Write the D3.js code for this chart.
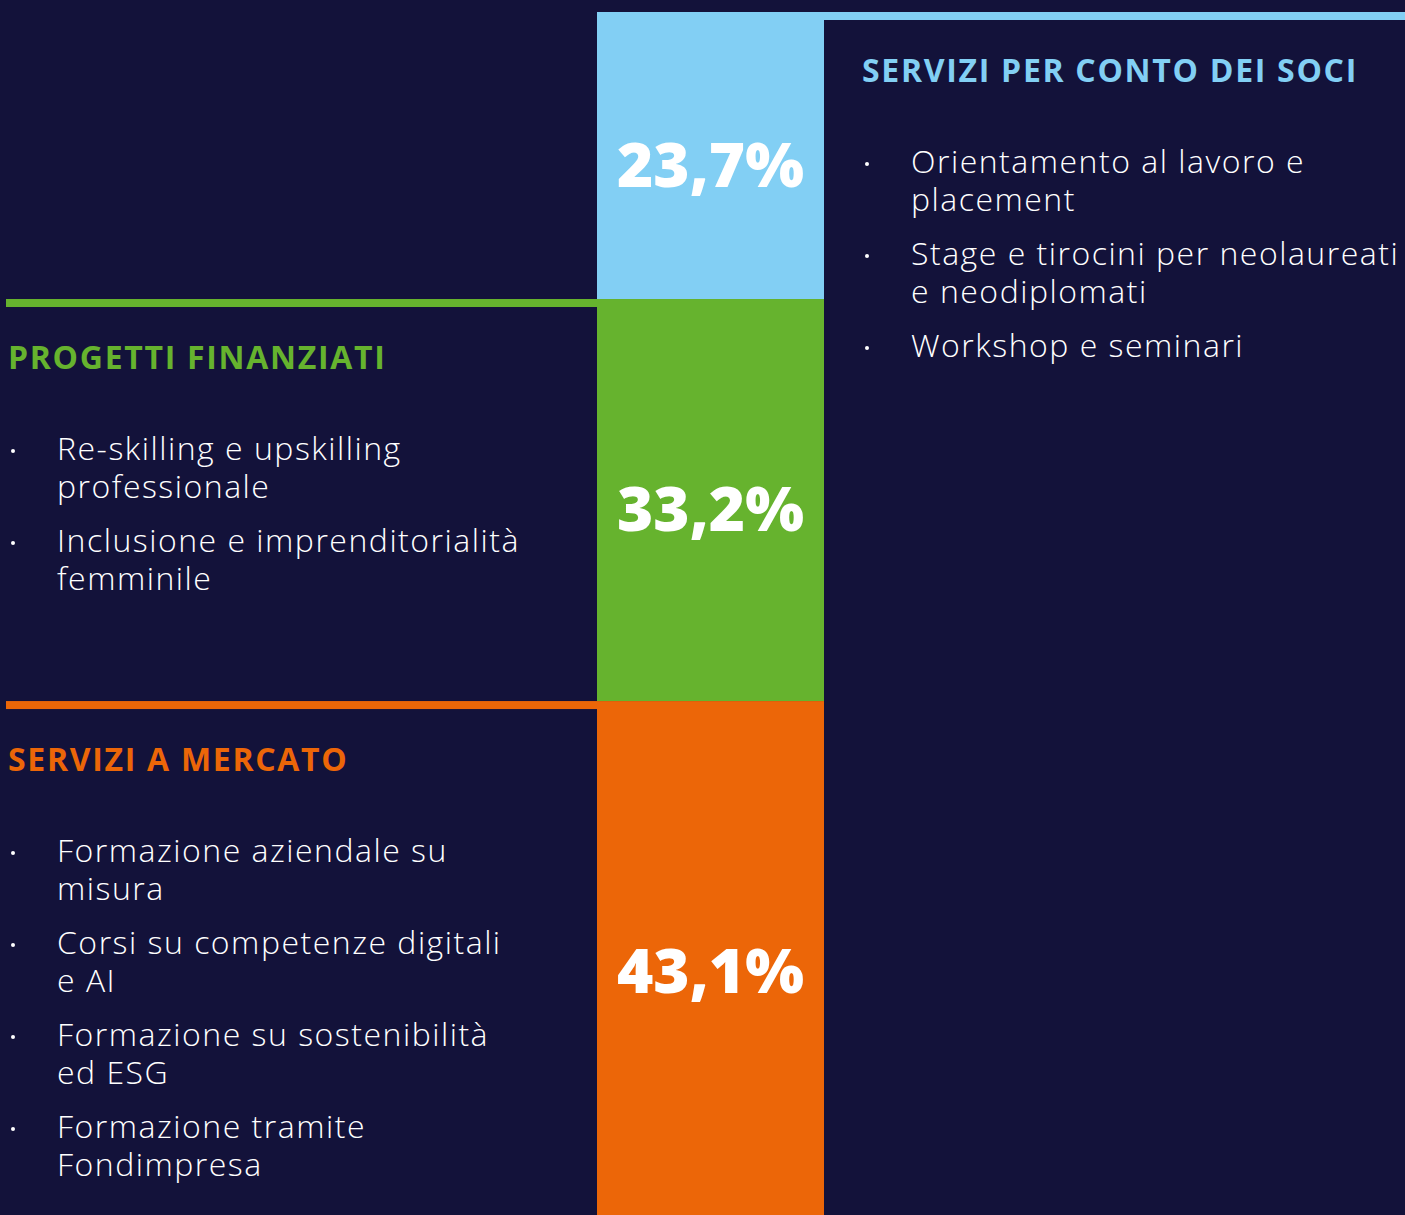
<!DOCTYPE html>
<html>
<head>
<meta charset="utf-8">
<script src="https://cdn.jsdelivr.net/npm/d3@7"></script>
<style>
    body { margin: 0; background: #13123a; }
    svg { display: block; }
    text { font-family: 'Open Sans', 'Noto Sans', sans-serif; }
</style>
</head>
<body>
<svg width="1405" height="1215"></svg>
<script>
// categories, top to bottom of the stacked bar
var categories = ['SERVIZI PER CONTO DEI SOCI', 'PROGETTI FINANZIATI', 'SERVIZI A MERCATO'];
// share of each category (%)
var shares = [23.7, 33.2, 43.1];
// bullet points of each category, already split in lines
var bulletItems = [
    [['Orientamento al lavoro e', 'placement'],
     ['Stage e tirocini per neolaureati', 'e neodiplomati'],
     ['Workshop e seminari']],
    [['Re-skilling e upskilling', 'professionale'],
     ['Inclusione e imprenditorialità', 'femminile']],
    [['Formazione aziendale su', 'misura'],
     ['Corsi su competenze digitali', 'e AI'],
     ['Formazione su sostenibilità', 'ed ESG'],
     ['Formazione tramite', 'Fondimpresa']]
];

var svg = d3.select('svg');
var svgWidth = +svg.attr('width');

var color = d3.scaleOrdinal()
    .domain(categories)
    .range(['#82cff4', '#66b32e', '#ec6608']);

// vertical scale of the 100% bar
var yScale = d3.scaleLinear().domain([0, 100]).range([12, 1223]);

// bar position
var barX = 597;
var barW = 227;

// italian number format: decimal comma
var it = d3.formatLocale({ decimal: ',', thousands: '.', grouping: [3], currency: ['', ' €'] });
var pct = it.format('.1f');

// stack the shares
var ends = d3.cumsum(shares);
var data = categories.map(function (c, i) {
    return {
        name: c,
        value: shares[i],
        start: ends[i] - shares[i],
        end: ends[i],
        items: bulletItems[i],
        side: i === 0 ? 'right' : 'left'
    };
});

// bar segments
svg.selectAll('.seg')
    .data(data)
    .enter()
    .append('rect')
    .attr('class', 'seg')
    .attr('x', barX)
    .attr('y', function (d) { return yScale(d.start); })
    .attr('width', barW)
    .attr('height', function (d) { return yScale(d.end) - yScale(d.start); })
    .attr('fill', function (d) { return color(d.name); });

// percentage labels
svg.selectAll('.pct')
    .data(data)
    .enter()
    .append('text')
    .attr('class', 'pct')
    .attr('x', barX + barW / 2)
    .attr('y', function (d) { return (yScale(d.start) + yScale(d.end)) / 2 + 31; })
    .attr('text-anchor', 'middle')
    .attr('fill', '#fff')
    .style('font-size', '62px')
    .style('font-weight', 800)
    .text(function (d) { return pct(d.value) + '%'; });

// text blocks next to the bar
var blocks = svg.selectAll('.block')
    .data(data)
    .enter()
    .append('g')
    .attr('class', 'block')
    .attr('transform', function (d) {
        var x = d.side === 'right' ? 862 : 8;
        return 'translate(' + x + ',' + yScale(d.start) + ')';
    });

// coloured rule at the top of each block
blocks.append('rect')
    .attr('x', function (d) { return d.side === 'right' ? barX + barW - 862 : -2; })
    .attr('y', 0)
    .attr('width', function (d) { return d.side === 'right' ? svgWidth - barX - barW : barX - 6; })
    .attr('height', 8)
    .attr('fill', function (d) { return color(d.name); });

blocks.append('text')
    .attr('class', 'heading')
    .attr('x', 0)
    .attr('y', 70)
    .attr('fill', function (d) { return color(d.name); })
    .style('font-size', '32px')
    .style('font-weight', 700)
    .style('letter-spacing', '1.7px')
    .text(function (d) { return d.name; });

var lineH = 38;
var itemGap = 16;

blocks.each(function (d) {
    var g = d3.select(this);
    var y = 161;
    d.items.forEach(function (lines) {
        g.append('circle')
            .attr('cx', 5)
            .attr('cy', y - 9)
            .attr('r', 2)
            .attr('fill', '#fff');
        lines.forEach(function (line, k) {
            g.append('text')
                .attr('x', 49)
                .attr('y', y + k * lineH)
                .attr('fill', '#fff')
                .style('font-size', '32px')
                .style('font-weight', 300)
                .style('letter-spacing', '1.5px')
                .text(line);
        });
        y += lines.length * lineH + itemGap;
    });
});
</script>
</body>
</html>
